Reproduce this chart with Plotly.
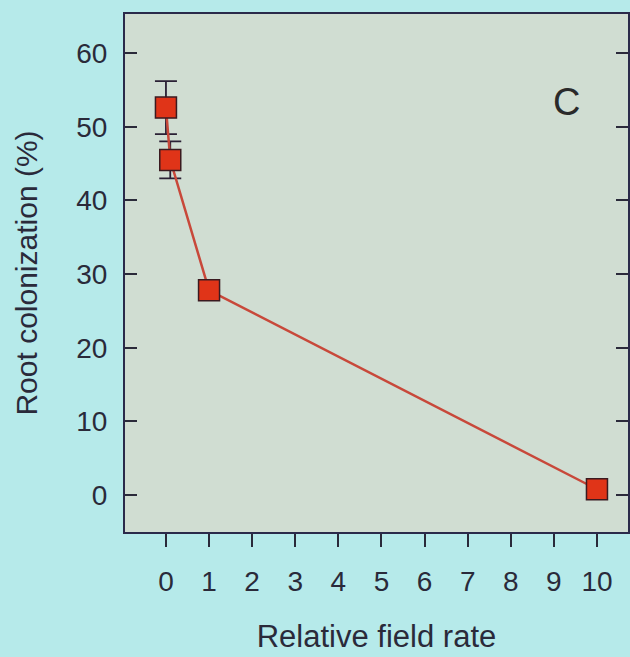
import plotly.graph_objects as go

rate = [0, 0.1, 1, 10]
colonization = [52.6, 45.5, 27.8, 0.8]
err = [3.6, 2.5, 0.0, 0.0]
x_ticks = list(range(0, 11))
y_ticks = [0, 10, 20, 30, 40, 50, 60]

fig = go.Figure()
fig.add_trace(go.Scatter(
    x=rate, y=colonization, mode="lines+markers",
    line=dict(color="#c8483a", width=2.5),
    marker=dict(symbol="square", size=21, color="#e03418",
                line=dict(color="#3a1a20", width=1.5)),
    error_y=dict(type="data", array=err, visible=True, color="#2a2035",
                 thickness=1.8, width=11),
    showlegend=False,
))

fig.add_annotation(x=9.3, y=53.3, text="C", showarrow=False,
                   font=dict(family="Liberation Sans, Arial", size=38, color="#2a2a2a"))

fig.update_layout(
    width=630, height=657,
    margin=dict(l=125, r=0, t=14, b=125),
    paper_bgcolor="#b6eaea",
    plot_bgcolor="#d0ddd2",
    font=dict(family="Liberation Sans, Arial", size=27, color="#2a2a3a"),
)
fig.update_xaxes(
    range=[-0.95, 10.72], tickvals=x_ticks, ticks="outside", ticklen=13,
    tickwidth=2, tickcolor="#2a2a3a", showline=True, linecolor="#2a2a4a",
    linewidth=2, mirror=True, showgrid=False, zeroline=False,
    tickfont=dict(size=28), ticklabelstandoff=10,
    title=dict(text="Relative field rate", font=dict(size=31), standoff=30),
)
fig.update_yaxes(
    range=[-5, 65.3], tickvals=y_ticks, ticks="inside", ticklen=12,
    tickwidth=2, tickcolor="#2a2a3a", showline=True, linecolor="#2a2a4a",
    linewidth=2, mirror="ticks", showgrid=False, zeroline=False,
    tickfont=dict(size=28), ticklabelstandoff=10,
    title=dict(text="Root colonization (%)", font=dict(size=30), standoff=30),
)

fig.write_html("out.html")
